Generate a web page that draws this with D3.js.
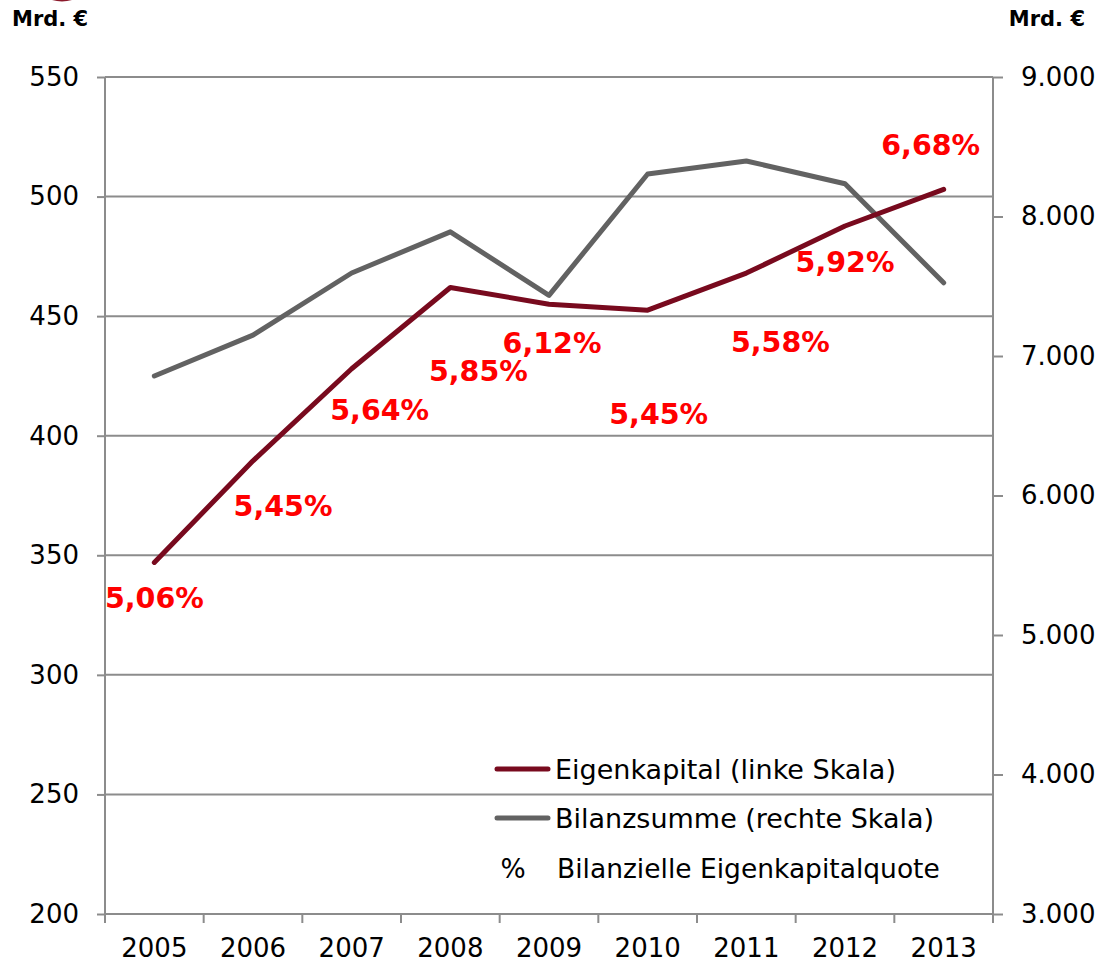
<!DOCTYPE html>
<html>
<head>
<meta charset="utf-8">
<script src="https://cdn.jsdelivr.net/npm/d3@7/dist/d3.min.js"></script>
<style>
  html, body { margin: 0; padding: 0; background: #fff; }
  svg { display: block; }
</style>
</head>
<body>
<svg id="chart" width="1109" height="962"></svg>
<script>
// ---- data ----
const years = ["2005","2006","2007","2008","2009","2010","2011","2012","2013"];
const eigenkapital = [347, 389.5, 428, 462, 455, 452.5, 468, 487.7, 503];      // Mrd. €, left scale
const bilanzsumme = [6857, 7150, 7595, 7890, 7435, 8305, 8398, 8235, 7525];    // Mrd. €, right scale
const quote = ["5,06%","5,45%","5,64%","5,85%","6,12%","5,45%","5,58%","5,92%","6,68%"];
const leftTicks = [200, 250, 300, 350, 400, 450, 500, 550];
const rightTicks = [3000, 4000, 5000, 6000, 7000, 8000, 9000];
const legendLabels = ["Eigenkapital (linke Skala)", "Bilanzsumme (rechte Skala)", "Bilanzielle Eigenkapitalquote"];

// label placement relative to the Eigenkapital point (layout only)
const labelOffsets = [[0,46],[30,55],[28,51],[28,94],[3,49],[11,114],[34,79],[0,46],[-13,-34]];

// ---- layout ----
const M = { left: 105, right: 993, top: 77, bottom: 914 };
const FONT = "'DejaVu Sans', Verdana, sans-serif";
const RED = "#780a1e", GREY = "#626262", AXIS = "#8c8c8c";

const svg = d3.select("#chart");

const x = d3.scaleBand().domain(years).range([M.left, M.right]).padding(0);
const yL = d3.scaleLinear().domain([200, 550]).range([M.bottom, M.top]);
const yR = d3.scaleLinear().domain([3000, 9000]).range([M.bottom, M.top]);
const cx = d => x(d) + x.bandwidth() / 2;

// decoration at top-left
svg.append("circle").attr("cx", 62).attr("cy", -32.5).attr("r", 34).attr("fill", "#8b1a2b");

// gridlines
svg.append("g").selectAll("line").data(leftTicks).join("line")
  .attr("x1", M.left).attr("x2", M.right)
  .attr("y1", d => yL(d)).attr("y2", d => yL(d))
  .attr("stroke", AXIS).attr("stroke-width", 2);

// left axis
const gL = svg.append("g").attr("transform", `translate(${M.left},0)`)
  .call(d3.axisLeft(yL).tickValues(leftTicks).tickSize(8).tickPadding(18).tickFormat(d3.format("d")));
// right axis
const fmtR = d => d3.format(",")(d).replace(/,/g, ".");
const gR = svg.append("g").attr("transform", `translate(${M.right},0)`)
  .call(d3.axisRight(yR).tickValues(rightTicks).tickSize(10).tickPadding(18).tickFormat(fmtR));
// bottom axis
const gB = svg.append("g").attr("transform", `translate(0,${M.bottom})`)
  .call(d3.axisBottom(x).tickSize(0).tickPadding(25));
// band-edge ticks
svg.append("g").selectAll("line").data(years.concat(["end"])).join("line")
  .attr("x1", (d, i) => M.left + i * x.bandwidth()).attr("x2", (d, i) => M.left + i * x.bandwidth())
  .attr("y1", M.bottom).attr("y2", M.bottom + 9)
  .attr("stroke", AXIS).attr("stroke-width", 2);

[gL, gR, gB].forEach(g => {
  g.select(".domain").attr("stroke", AXIS).attr("stroke-width", 2);
  g.selectAll(".tick line").attr("stroke", AXIS).attr("stroke-width", 2);
  g.selectAll(".tick text").attr("fill", "#000").style("font-family", FONT).style("font-size", "26px");
});
gL.select(".domain").attr("d", `M0,${M.top}V${M.bottom}`);
gR.select(".domain").attr("d", `M0,${M.top}V${M.bottom}`);
gB.select(".domain").attr("d", `M${M.left},0H${M.right}`);
gB.selectAll(".tick text").attr("dy", "0.71em");

// unit labels
svg.append("text").attr("x", 12).attr("y", 26).text("Mrd. €")
  .style("font-family", FONT).style("font-size", "21px").style("font-weight", "bold");
svg.append("text").attr("x", 1085).attr("y", 26).attr("text-anchor", "end").text("Mrd. €")
  .style("font-family", FONT).style("font-size", "21px").style("font-weight", "bold");

// lines
const lineL = d3.line().x((d, i) => cx(years[i])).y(d => yL(d));
const lineR = d3.line().x((d, i) => cx(years[i])).y(d => yR(d));
svg.append("path").attr("d", lineR(bilanzsumme)).attr("fill", "none")
  .attr("stroke", GREY).attr("stroke-width", 5).attr("stroke-linejoin", "round").attr("stroke-linecap", "round");
svg.append("path").attr("d", lineL(eigenkapital)).attr("fill", "none")
  .attr("stroke", RED).attr("stroke-width", 5).attr("stroke-linejoin", "round").attr("stroke-linecap", "round");

// percentage labels
svg.append("g").selectAll("text").data(quote).join("text")
  .attr("x", (d, i) => cx(years[i]) + labelOffsets[i][0])
  .attr("y", (d, i) => yL(eigenkapital[i]) + labelOffsets[i][1])
  .attr("text-anchor", "middle")
  .attr("fill", "#ff0000")
  .style("font-family", FONT).style("font-size", "28.5px").style("font-weight", "bold")
  .text(d => d);

// legend
const lg = svg.append("g");
const legendRows = [{ y: 769, color: RED }, { y: 818, color: GREY }];
legendRows.forEach((r, i) => {
  lg.append("line").attr("x1", 497).attr("x2", 548).attr("y1", r.y).attr("y2", r.y)
    .attr("stroke", r.color).attr("stroke-width", 5).attr("stroke-linecap", "round");
  lg.append("text").attr("x", 555).attr("y", r.y + 10).text(legendLabels[i])
    .style("font-family", FONT).style("font-size", "27px").attr("fill", "#000");
});
lg.append("text").attr("x", 513).attr("y", 878).attr("text-anchor", "middle").text("%")
  .style("font-family", FONT).style("font-size", "26.5px").attr("fill", "#000");
lg.append("text").attr("x", 557).attr("y", 878).text(legendLabels[2])
  .style("font-family", FONT).style("font-size", "26.5px").attr("fill", "#000");
</script>
</body>
</html>
